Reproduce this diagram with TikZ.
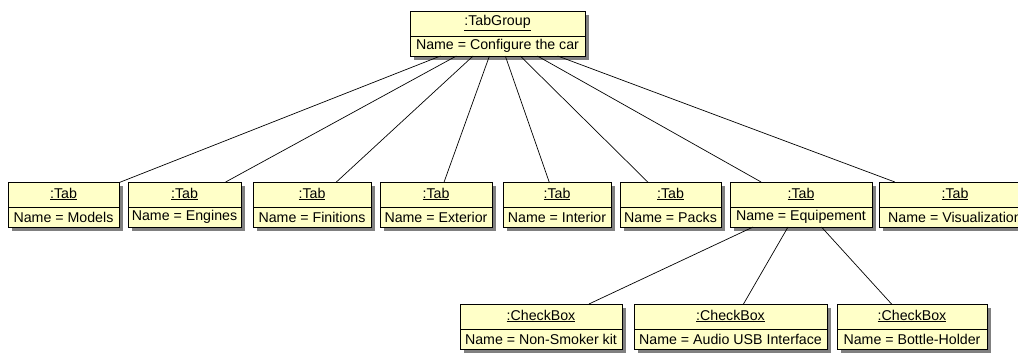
\documentclass[tikz,border=0pt]{standalone}
\usepackage{fontspec}
\setmainfont{Liberation Sans}
\definecolor{objfill}{RGB}{255,255,200}
\definecolor{shadowc}{RGB}{128,128,128}
\tikzset{
  objbox/.style={rectangle, draw=black, fill=objfill, line width=0.8pt, inner sep=0pt, outer sep=0pt, minimum height=45pt, anchor=north west},
  objshadow/.style={fill=shadowc},
  objtext/.style={font=\fontsize{14.2}{16}\selectfont, inner sep=0pt},
  link/.style={draw=black, line width=0.7pt}
}
\newcommand\umlobj[6]{%
  \fill[objshadow] (#2+4,#4+4) rectangle (#3+4,#4+49);
  \node[objbox, minimum width=#3-#2] (#1) at (#2,#4) {};
  \draw[line width=0.8pt] ([yshift=-25pt]#1.north west) -- ([yshift=-25pt]#1.north east);
  \node[objtext] (#1-title) at ([yshift=-12pt]#1.north) {\underline{#5}};
  \node[objtext] (#1-value) at ([yshift=10pt]#1.south) {#6};
}
\begin{document}
\begin{tikzpicture}[x=1pt,y=-1pt]
\clip (0,0) rectangle (1018,356);
\fill[white] (0,0) rectangle (1018,356);
\umlobj{tg}{410}{585}{11}{:TabGroup}{Name = Configure the car}
\umlobj{t1}{8}{119}{182}{:Tab}{Name = Models}
\umlobj{t2}{128}{241}{182}{:Tab}{Name = Engines}
\umlobj{t3}{253}{371}{182}{:Tab}{Name = Finitions}
\umlobj{t4}{380}{492}{182}{:Tab}{Name = Exterior}
\umlobj{t5}{503}{611}{182}{:Tab}{Name = Interior}
\umlobj{t6}{620}{721}{182}{:Tab}{Name = Packs}
\umlobj{t7}{730}{872}{182}{:Tab}{Name = Equipement}
\umlobj{t8}{879}{1031}{182}{:Tab}{Name = Visualization}
\umlobj{c1}{460}{622}{304}{:CheckBox}{Name = Non-Smoker kit}
\umlobj{c2}{634}{827}{304}{:CheckBox}{Name = Audio USB Interface}
\umlobj{c3}{837}{987}{304}{:CheckBox}{Name = Bottle-Holder}
\foreach \t in {t1,t2,t3,t4,t5,t6,t7,t8}{\draw[link] (tg) -- (\t);}
\foreach \c in {c1,c2,c3}{\draw[link] (t7) -- (\c);}
\end{tikzpicture}
\end{document}
